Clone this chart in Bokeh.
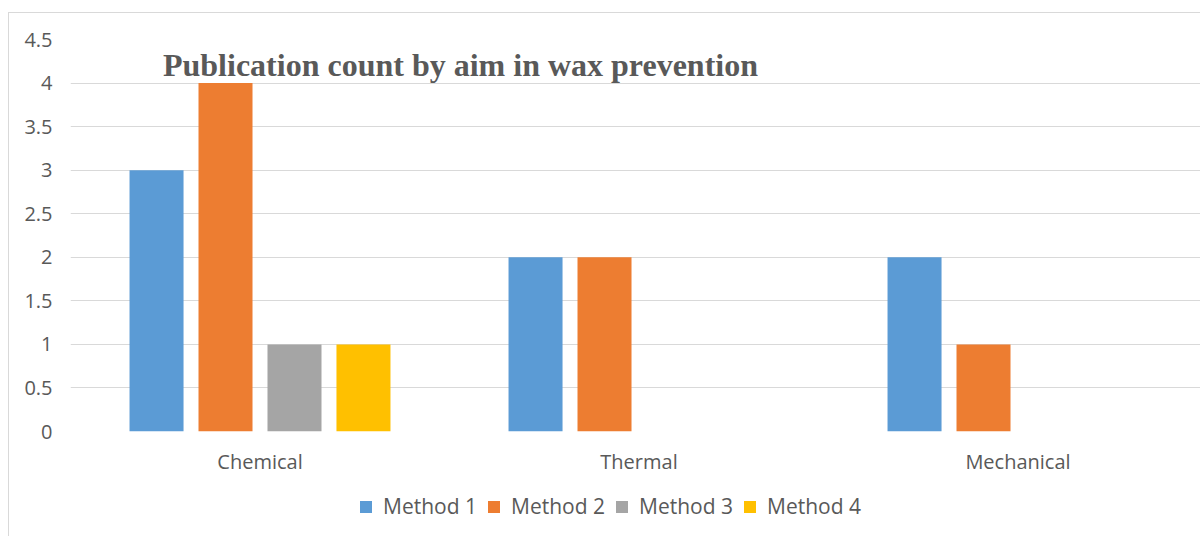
from bokeh.plotting import figure
from bokeh.layouts import column
from bokeh.models import (Range1d, FixedTicker, NumeralTickFormatter, Legend, LegendItem,
                          Label)
from bokeh.embed import file_html
from bokeh.resources import INLINE

# ---- data ----
categories = ["Chemical", "Thermal", "Mechanical"]
series_names = ["Method 1", "Method 2", "Method 3", "Method 4"]
method1 = [3, 2, 2]
method2 = [4, 2, 1]
method3 = [1, 0, 0]
method4 = [1, 0, 0]
y_ticks = [0, 0.5, 1, 1.5, 2, 2.5, 3, 3.5, 4, 4.5]
title_text = "Publication count by aim in wax prevention"

# ---- style ----
colors = ["#5B9BD5", "#ED7D31", "#A5A5A5", "#FFC000"]
text_color = "#595959"
grid_color = "#D9D9D9"
border_css = "1px solid #D9D9D9"
font = "Open Sans"
off_x, off_y = 9, 13     # chart-area offset inside the window (border at 8/12)
W = 1201 - off_x
main_h = 464
leg_h = 537 - off_y - main_h
cat_px = 379.0           # pixel width of one category band
frame_left = 70 - off_x
frame_top = 39 - off_y
frame_bottom = 431 - off_y
frame_w = W - frame_left
bar_step = 0.182
bar_w = 0.1425
legend_offset = 358 - 70  # first legend swatch relative to frame left

p = figure(width=W, height=main_h,
           x_range=Range1d(-0.5, -0.5 + frame_w / cat_px),
           y_range=Range1d(0, 4.5),
           output_backend="svg", toolbar_location=None,
           min_border_left=frame_left, min_border_right=0,
           min_border_top=frame_top, min_border_bottom=main_h - frame_bottom)
p.styles = {"border-left": border_css, "border-top": border_css}
p.outline_line_color = None
p.background_fill_color = "white"
p.border_fill_color = "white"

all_vals = [method1, method2, method3, method4]
for j, vals in enumerate(all_vals):
    xs = [i + (j - 1.5) * bar_step for i in range(len(categories))]
    p.vbar(x=xs, top=vals, width=bar_w, fill_color=colors[j], line_color=None)

# axes
p.xgrid.visible = False
p.ygrid.grid_line_color = grid_color
p.ygrid.grid_line_width = 1
p.yaxis.ticker = FixedTicker(ticks=y_ticks)
p.yaxis.formatter = NumeralTickFormatter(format="0.[0]")
p.yaxis.axis_line_color = None
p.yaxis.major_tick_line_color = None
p.yaxis.minor_tick_line_color = None
p.yaxis.major_label_standoff = 12
p.yaxis.major_label_text_font = font
p.yaxis.major_label_text_font_size = "20px"
p.yaxis.major_label_text_color = text_color

p.xaxis.ticker = FixedTicker(ticks=list(range(len(categories))))
p.xaxis.major_label_overrides = {i: c for i, c in enumerate(categories)}
p.xaxis.axis_line_color = None
p.xaxis.major_tick_line_color = None
p.xaxis.minor_tick_line_color = None
p.xaxis.major_label_standoff = 10
p.xaxis.major_label_text_font = font
p.xaxis.major_label_text_font_size = "20px"
p.xaxis.major_label_text_color = text_color

# title inside plot
p.add_layout(Label(x=0.529, y=4.213, text=title_text, text_align="center",
                   text_baseline="middle", text_font="Liberation Serif",
                   text_font_style="bold", text_font_size="32px",
                   text_color=text_color))

# ---- legend strip (separate figure below the chart, frame aligned with chart) ----
lf = figure(width=W, height=leg_h, x_range=Range1d(0, 1), y_range=Range1d(0, 1),
            output_backend="svg", toolbar_location=None,
            min_border_left=frame_left, min_border_right=0,
            min_border_top=0, min_border_bottom=0)
lf.styles = {"border-left": border_css}
lf.axis.visible = False
lf.grid.visible = False
lf.outline_line_color = None
lf.background_fill_color = "white"
lf.border_fill_color = "white"
nan = float("nan")
leg_renderers = [lf.vbar(x=[nan], top=[nan], width=0.1, fill_color=c, line_color=None)
                 for c in colors]
legend = Legend(items=[LegendItem(label=s, renderers=[r]) for s, r in zip(series_names, leg_renderers)],
                orientation="horizontal", location="center_left",
                glyph_width=15, glyph_height=15, label_standoff=10, spacing=9,
                label_text_font=font, label_text_font_size="21px",
                label_text_color=text_color, border_line_color=None,
                background_fill_alpha=0, padding=0, margin=legend_offset)
lf.add_layout(legend)

layout = column(p, lf, spacing=0, margin=(off_y - 1, 0, 0, off_x - 1))
open("out.html", "w").write(file_html(layout, INLINE))
